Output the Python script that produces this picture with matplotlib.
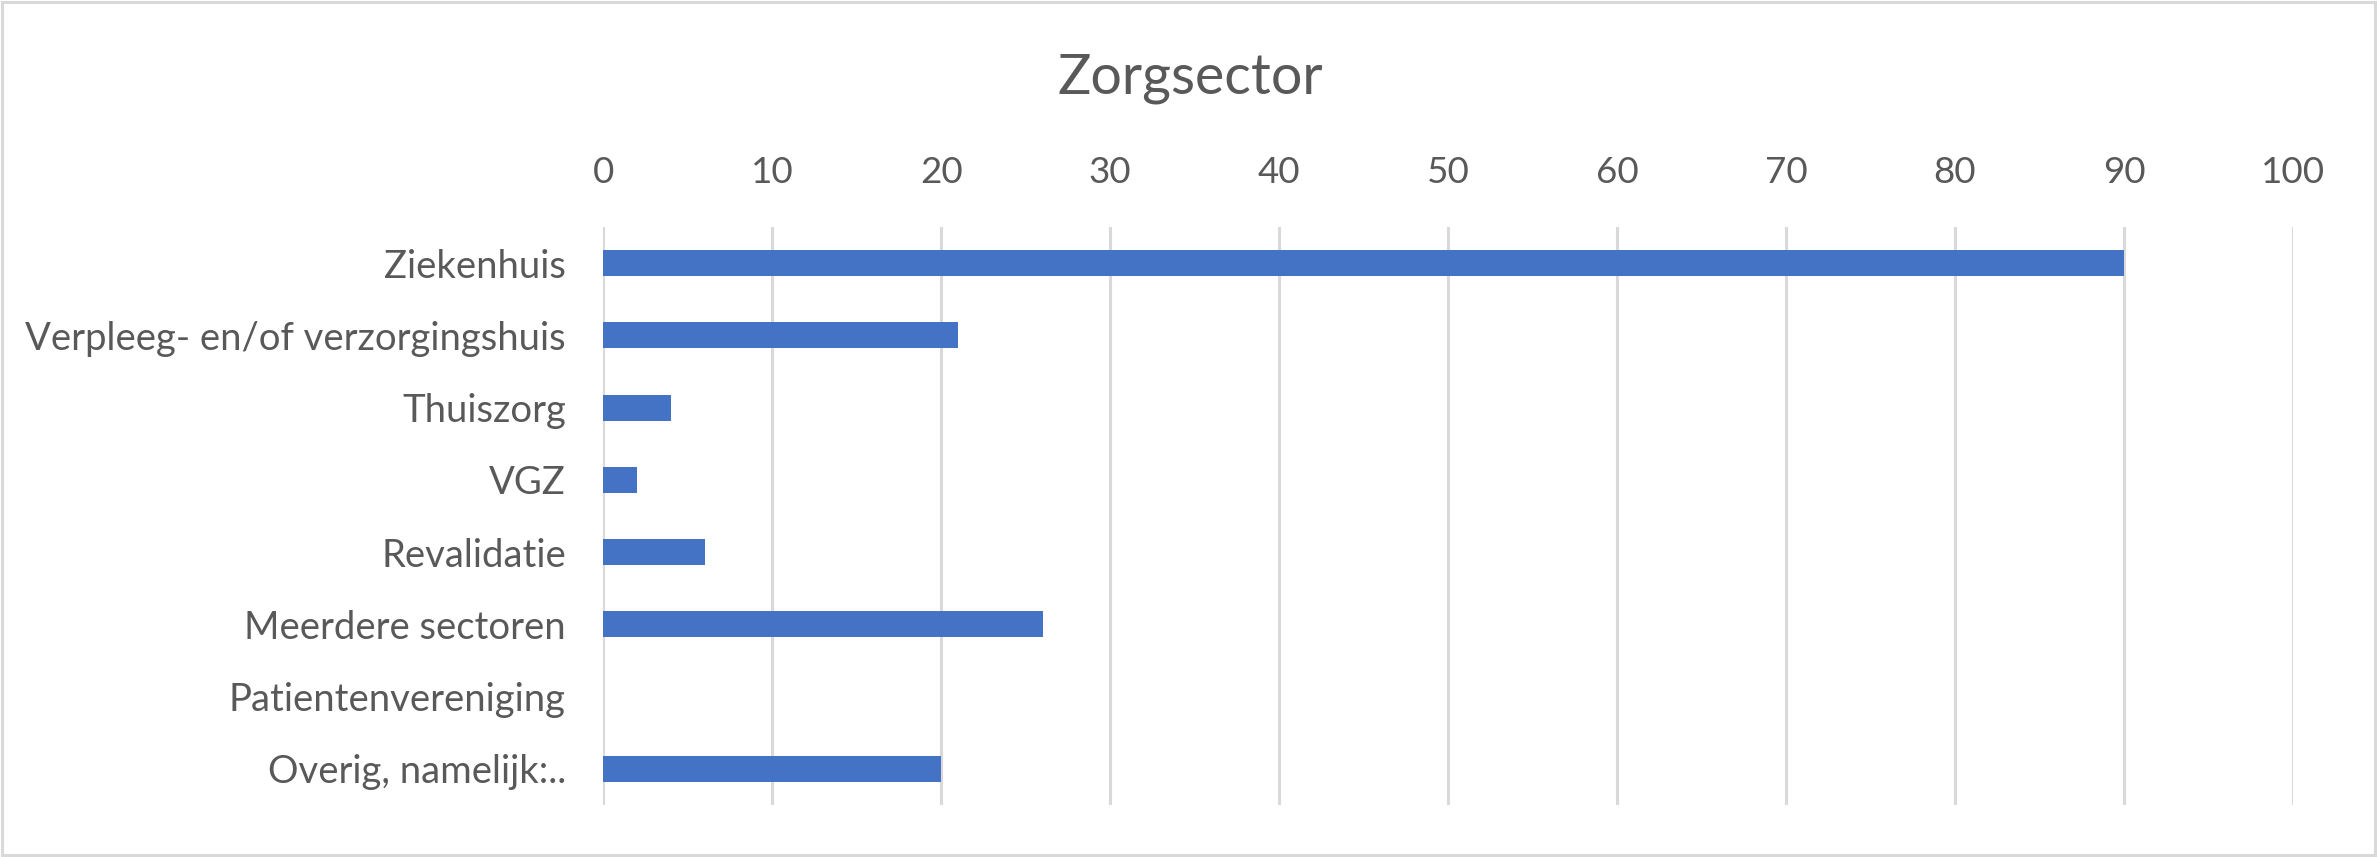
import matplotlib
matplotlib.use("Agg")
import matplotlib.pyplot as plt
from matplotlib.patches import Rectangle

categories = ["Ziekenhuis", "Verpleeg- en/of verzorgingshuis", "Thuiszorg", "VGZ",
              "Revalidatie", "Meerdere sectoren", "Patientenvereniging", "Overig, namelijk:.."]
values = [90, 21, 4, 2, 6, 26, 0, 20]
xticks = [0, 10, 20, 30, 40, 50, 60, 70, 80, 90, 100]

plt.rcParams['font.family'] = ['Lato', 'DejaVu Sans']
txt = '#595959'

fig = plt.figure(figsize=(23.77, 8.57), dpi=100)
ax = fig.add_axes([603.3/2377, 52/857, (2293-603.3)/2377, (805-227)/857])

ypos = list(range(len(categories)))
ax.barh(ypos, values, height=0.36, color='#4472C4', zorder=3)
ax.set_ylim(len(categories) - 0.5, -0.5)
ax.set_xlim(0, 100)
ax.set_xticks(xticks)
ax.set_yticks(ypos)
ax.set_yticklabels(categories)
ax.xaxis.tick_top()
ax.tick_params(axis='x', length=0, pad=27, labelsize=26.5, labelcolor=txt)
ax.tick_params(axis='y', length=0, pad=27, labelsize=27.5, labelcolor=txt)
ax.grid(axis='x', color='#d9d9d9', linewidth=2.2, zorder=0)
for s in ax.spines.values():
    s.set_visible(False)

fig.text(1190/2377, 1 - 78/857, "Zorgsector", ha='center', va='center',
         fontsize=40, color=txt)

fig.patches.append(Rectangle((0.001, 0.002), 0.998, 0.996, transform=fig.transFigure,
                             fill=False, edgecolor='#d9d9d9', linewidth=2.2))

fig.savefig("out.png", dpi=100)
